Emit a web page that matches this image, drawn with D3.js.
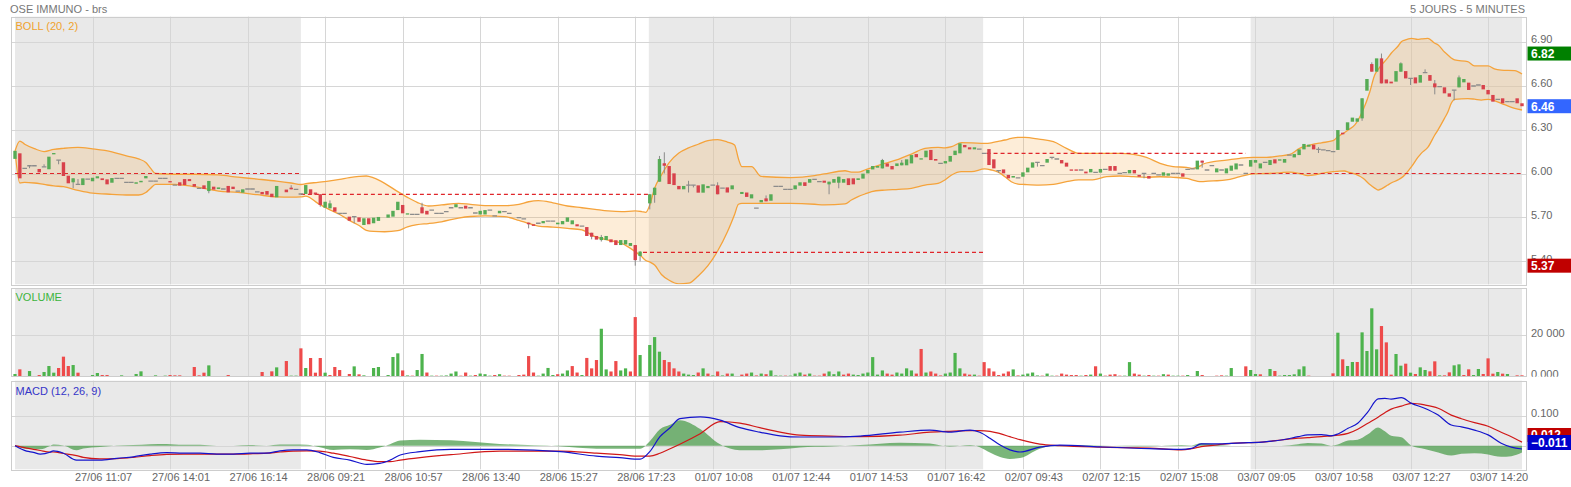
<!DOCTYPE html>
<html><head><meta charset="utf-8">
<script src="https://cdn.jsdelivr.net/npm/d3@7"></script>
<style>
html,body{margin:0;padding:0;background:#fff;overflow:hidden}
svg{display:block;font-family:"Liberation Sans",Arial,sans-serif}
</style></head>
<body><svg id="c" width="1571" height="487"></svg>
<script>
// ---------------- DATA ----------------
const opens = [6.10,6.138,6.035,6.053,6.053,6.031,6.046,6.029,6.131,6.092,6.077,5.985,5.94,5.926,5.921,5.962,5.947,5.967,5.967,5.96,
5.937,5.967,5.967,5.94,5.94,5.93,5.94,5.967,5.948,5.948,5.967,5.967,5.948,5.92,5.94,5.962,5.962,5.928,5.899,5.919,
5.88,5.91,5.894,5.894,5.915,5.91,5.88,5.869,5.894,5.894,5.875,5.874,5.88,5.862,5.837,null,5.89,5.903,5.892,5.86,
5.86,5.892,5.87,5.858,5.766,5.762,5.769,5.728,5.728,5.705,5.705,5.70,5.648,5.694,5.66,5.676,null,5.698,5.705,5.75,
5.785,5.72,5.72,5.72,5.769,5.745,5.75,5.728,5.728,5.74,5.766,5.769,5.766,5.78,5.766,5.73,5.72,5.72,5.75,5.71,
5.728,5.74,5.728,null,5.698,5.69,5.664,5.653,5.66,5.66,5.675,5.675,5.653,5.653,5.67,5.653,5.653,5.64,5.634,5.595,
5.573,5.545,5.545,5.55,5.544,5.511,5.515,5.505,5.511,5.436,null,5.796,5.853,5.944,6.07,6.051,6.001,5.915,5.892,5.92,
5.92,5.919,5.869,5.90,5.92,5.919,5.90,5.905,5.892,null,5.86,5.87,5.83,5.764,5.803,5.83,5.814,5.912,5.912,5.892,
5.892,5.892,5.917,5.94,5.937,5.96,5.944,5.951,5.926,5.937,5.937,5.937,5.967,5.967,5.956,5.965,6.001,6.028,6.04,6.035,
6.069,6.051,6.051,6.056,6.056,6.069,6.133,6.097,6.111,6.161,6.099,6.069,6.069,6.081,6.126,6.138,6.195,6.179,6.165,6.167,
6.138,6.167,6.097,6.02,6.028,5.99,5.972,5.97,5.978,6.008,6.04,6.076,6.054,6.074,6.11,6.099,6.092,6.074,6.028,6.028,
6.024,6.013,6.008,6.008,6.006,6.028,6.051,6.051,6.001,6.006,6.001,6.024,5.99,6.001,5.983,6.001,5.99,5.985,5.985,6.001,
6.001,6.001,6.028,6.031,6.028,6.088,6.024,6.054,6.008,6.024,6.001,6.019,6.028,6.058,6.001,6.047,6.074,6.035,6.076,6.058,
6.097,6.088,6.074,6.126,6.11,6.126,6.165,6.183,6.197,6.165,6.161,6.156,6.149,6.161,6.279,6.297,6.354,6.354,6.377,6.566,
6.748,6.696,6.787,6.643,6.628,6.628,6.696,6.70,6.65,6.657,6.621,6.689,6.673,6.616,6.594,6.589,6.548,6.57,6.589,6.623,
6.621,6.598,6.605,6.605,6.571,6.537,6.507,6.514,6.491,6.491,6.514,6.48];

const closes = [6.155,5.967,6.035,6.053,6.053,6.008,6.046,6.115,6.14,6.092,5.983,5.933,5.967,5.926,5.967,5.962,5.971,5.981,5.955,5.926,
5.969,5.967,5.967,5.94,5.94,5.94,5.95,5.983,5.948,5.948,5.967,5.967,5.94,5.92,5.917,5.921,5.948,5.91,5.899,5.894,
5.949,5.89,5.905,5.894,5.871,5.894,5.88,5.892,5.894,5.894,5.875,5.858,5.855,5.839,5.915,null,5.872,5.892,5.892,5.86,
5.921,5.858,5.856,5.785,5.807,5.796,5.739,5.728,5.728,5.677,5.705,5.67,5.694,5.653,5.698,5.703,null,5.72,5.745,5.807,
5.728,5.728,5.72,5.72,5.728,5.72,5.75,5.728,5.728,5.74,5.766,5.79,5.766,5.76,5.766,5.73,5.745,5.75,5.75,5.71,
5.745,5.74,5.728,null,5.698,5.69,5.653,5.642,5.66,5.675,5.675,5.675,5.664,5.675,5.70,5.68,5.639,5.64,5.573,5.568,
5.548,5.566,5.573,5.53,5.511,5.545,5.545,5.525,5.408,5.466,null,5.858,5.903,6.099,6.053,5.928,5.921,5.892,5.915,5.92,
5.92,5.869,5.926,5.915,5.92,5.858,5.90,5.87,5.919,null,5.874,5.84,5.858,5.764,5.819,5.81,5.858,5.912,5.912,5.892,
5.892,5.919,5.94,5.915,5.962,5.96,5.944,5.937,5.944,5.962,5.978,5.962,5.921,5.926,5.967,5.999,6.024,6.051,6.051,6.092,
6.047,6.028,6.069,6.074,6.097,6.126,6.111,6.104,6.156,6.092,6.088,6.069,6.085,6.12,6.156,6.206,6.179,6.165,6.179,6.167,
6.138,6.058,6.035,6.02,6.001,5.967,5.983,5.97,6.008,6.04,6.076,6.076,6.054,6.099,6.11,6.099,6.069,6.047,6.019,6.019,
6.024,6.001,6.031,6.008,6.031,6.028,6.019,6.019,6.001,6.006,6.024,6.001,5.978,6.001,5.965,6.001,5.99,6.008,6.001,6.001,
6.001,5.978,6.028,6.031,6.088,6.074,6.024,6.054,6.035,6.024,6.035,6.054,6.069,6.058,6.001,6.092,6.092,6.069,6.076,6.092,
6.069,6.097,6.099,6.126,6.133,6.165,6.202,6.197,6.165,6.165,6.161,6.156,6.149,6.297,6.268,6.35,6.382,6.377,6.514,6.646,
6.696,6.787,6.616,6.616,6.616,6.70,6.753,6.65,6.65,6.616,6.673,6.689,6.634,6.589,6.594,6.548,6.525,6.57,6.657,6.646,
6.571,6.598,6.605,6.575,6.541,6.491,6.507,6.48,6.491,6.491,6.48,6.46];

// wick extremes beyond the body: [bar, price]
const wickHighs = [[6,6.063],[13,5.962],[57,5.92],[65,5.816],[84,5.80],[121,5.58],[129,5.47],[133,6.12],[134,6.145],[139,5.95],
[145,5.94],[155,5.85],[179,6.10],[183,6.092],[269,6.18],[280,6.76],[282,6.82],[286,6.76],[291,6.712],[293,6.639],[298,6.67]];
const wickLows = [[3,6.036],[9,6.063],[12,5.90],[40,5.865],[63,5.773],[67,5.72],[70,5.66],[106,5.625],[119,5.55],[121,5.535],
[128,5.37],[129,5.40],[131,5.755],[132,5.80],[134,6.0],[139,5.87],[140,5.905],[168,5.858],[170,5.899],[203,6.005],
[211,6.047],[214,6.097],[233,5.967],[245,6.04],[269,6.14],[278,6.36],[288,6.605],[293,6.541],[297,6.50]];

const volumes = [1300,3530,300,2720,200,800,2250,5130,1930,4170,9610,5130,5600,1930,300,300,800,1770,800,800,
300,300,650,300,300,1300,2570,300,300,650,300,500,800,650,650,300,300,4650,650,1930,
5440,300,300,300,800,300,300,300,300,200,300,2250,300,2570,4480,0,7520,500,500,13600,
4170,8970,1930,8970,1930,800,4650,3200,300,1300,4960,1140,650,300,4170,4650,0,800,9450,11200,
3000,600,500,3200,10900,2000,500,500,500,600,1500,2500,500,2000,500,800,1500,1200,500,800,
1200,500,500,0,800,1000,9900,2000,500,1500,4200,800,1200,1500,3000,5100,2000,800,9000,4000,
8000,23000,3500,2500,7500,3000,4000,2500,28600,10400,0,15200,19000,12000,8000,7000,4000,2500,1500,1000,
800,2000,4000,1500,600,2500,600,1500,1500,0,1000,1500,2000,600,1500,1200,3000,600,500,500,
500,1500,2000,1000,1500,500,500,1500,2500,1200,2500,1000,1500,1000,800,1500,2000,9400,1000,3000,
1500,1000,2000,1500,4000,3000,1500,13300,2000,2500,1500,600,1500,2000,11400,4000,1500,1000,1000,500,
7000,4000,2500,800,1500,2500,3500,600,1000,1500,2000,600,500,1500,500,500,1500,1000,800,800,
500,800,1000,5000,1500,500,1000,1200,500,500,7000,1500,1000,500,800,500,500,1200,1000,500,
500,500,800,300,2730,800,300,300,500,650,500,4160,300,300,4970,3210,1300,1140,300,3690,
2730,500,800,800,1140,3530,4970,500,300,300,200,300,1610,21100,8330,5130,7050,7050,21270,12330,
32800,13130,24300,16470,980,10890,5290,6250,1930,1300,4490,3210,2570,7370,650,650,2090,5450,5930,800,
3530,800,3690,1300,8800,1460,2250,1460,1300,300,650,650];

// Bollinger (20, 2): bar position, upper band, lower band
const bollIdx = [0,1,2,4,6,8,10,13,16,20, 23,25.5,27,28,29,33,37,42,46,50, 54,57,59,60,62.5,65,67,69,71,72.5,
74,76.3,79,81,83,85.3,88,91.5,94,97, 101,104,106,108,111,114,117,119.7,122.4,125.2, 128,129.3,130.2,131,132,133.4,135,137,139,141,
143,145,147,148.5,149.3,150,152,154,160,165, 167,171.3,172.6,174,175.4,176.8,179.5,182.3,185,187.8,
190.5,191.9,193.3,195.3,197.4,200.1,201.5,202.9,204.3,205.6, 207,208.4,211.3,214.3,217,219.5,222,225.3,228,230.8,
233.5,236.3,239,241.8,243.1,244.5,245.2,247.3,250,252.8, 255.5,258.3,261,263.1,265.1,266.8,268.2,269.6,272,273,
274.4,275.1,276.5,278.2,279.6,280.6,281.3,282,283.3,284, 285.4,286.1,286.8,288.2,289.5,290.2,291.6,293,293.7,295,
295.7,296.4,297.1,299.8,301.2,302.6,304,305.3,306.7,309.5, 311];
const bollUpper = [6.154,6.222,6.200,6.170,6.150,6.165,6.172,6.178,6.168,6.148, 6.120,6.100,6.075,6.035,6.000,5.995,5.995,5.990,5.975,5.962,
5.948,5.935,5.925,5.930,5.940,5.950,5.960,5.972,5.980,5.983, 5.970,5.933,5.876,5.837,5.803,5.778,5.785,5.796,5.789,5.780,
5.780,5.789,5.807,5.814,5.800,5.778,5.766,5.755,5.744,5.739, 5.744,5.740,5.735,5.785,5.899,5.990,6.075,6.140,6.175,6.200,
6.225,6.232,6.215,6.195,6.100,6.047,6.047,5.980,5.972,5.985, 5.997,6.019,6.010,6.010,6.024,6.040,6.069,6.097,6.133,6.172,
6.179,6.175,6.183,6.211,6.210,6.206,6.210,6.220,6.229,6.240, 6.247,6.247,6.235,6.218,6.172,6.138,6.138,6.138,6.138,6.131,
6.110,6.069,6.047,6.042,6.035,6.050,6.065,6.081,6.092,6.104, 6.110,6.110,6.120,6.130,6.172,6.190,6.202,6.210,6.224,6.252,
6.280,6.297,6.332,6.434,6.559,6.673,6.710,6.742,6.790,6.822, 6.870,6.901,6.912,6.924,6.917,6.920,6.924,6.890,6.879,6.830,
6.810,6.790,6.776,6.764,6.735,6.735,6.735,6.715,6.707,6.703, 6.680];
const bollLower = [6.154,5.935,5.940,5.935,5.925,5.915,5.910,5.885,5.866,5.858, 5.853,5.853,5.870,5.900,5.926,5.926,5.910,5.880,5.871,5.855,
5.840,5.838,5.840,5.845,5.796,5.751,5.720,5.680,5.645,5.612, 5.604,5.602,5.609,5.635,5.650,5.658,5.670,5.695,5.706,5.710,
5.705,5.680,5.659,5.641,5.634,5.625,5.614,5.568,5.545,5.523, 5.466,5.432,5.405,5.395,5.374,5.310,5.270,5.245,5.250,5.300,
5.370,5.470,5.600,5.720,5.790,5.796,5.796,5.796,5.796,5.790, 5.785,5.792,5.819,5.842,5.860,5.876,5.887,5.892,5.899,5.921,
5.933,5.956,5.990,6.013,6.013,6.031,6.024,6.010,5.978,5.944, 5.928,5.925,5.921,5.926,5.944,5.956,5.956,5.978,5.983,5.978,
5.974,5.978,5.974,5.967,5.955,5.944,5.945,5.949,5.956,5.978, 5.997,6.000,6.005,6.010,6.000,5.985,5.990,6.001,6.013,6.015,
6.017,6.010,5.997,5.967,5.925,5.900,5.887,5.895,5.921,5.935, 5.956,5.970,5.990,6.047,6.110,6.138,6.180,6.263,6.300,6.377,
6.420,6.480,6.507,6.512,6.508,6.502,6.507,6.498,6.480,6.445, 6.434];

// MACD (12, 26, 9)
const macdIdx = [0,2.4,3.8,5.2,7.2,7.9,10,12.7,14.1,17.5, 21,24.4,27.9,31.3,34.7,38.2,41.6,45.1,48.5,51.9,
54.7,57.4,60.2,62.9,65.7,69.1,72.6,75.3,77.4,79.5, 83.6,90,100,112.5,120,124.8,129,131,133.1,135.2,
137.2,141.4,145.5,149.6,153.7,157.9,162,168.2,174.4,182.6, 188.8,192.9,197.1,199.1,201.2,203.3,205.3,207.4,211.5,215.6,
223.9,234.2,240.7,242.8,244.8,247.6,251,254.5,257.9,261.3, 264.8,266.8,269.6,271.6,273,275.1,277.1,279.2,281.3,282.7,
284,286.1,288.2,290.9,293.7,296.4,298.5,301.2,304,306.7, 308.8,311];
const macdLine = [0,-0.018,-0.022,-0.028,-0.022,-0.017,-0.025,-0.048,-0.048,-0.048, -0.042,-0.037,-0.028,-0.023,-0.025,-0.025,-0.028,-0.028,-0.025,-0.025,
-0.017,-0.014,-0.014,-0.023,-0.039,-0.048,-0.062,-0.059,-0.048,-0.031, -0.02,-0.012,-0.012,-0.02,-0.035,-0.04,-0.045,-0.02,0.03,0.06,
0.09,0.096,0.085,0.06,0.045,0.033,0.029,0.029,0.032,0.045, 0.052,0.045,0.052,0.045,0.025,0.002,-0.014,-0.021,-0.005,0.002,
-0.004,-0.01,-0.012,-0.009,0.006,0.006,0.008,0.01,0.013,0.019, 0.03,0.036,0.037,0.033,0.039,0.058,0.075,0.113,0.156,0.158,
0.155,0.16,0.141,0.125,0.102,0.069,0.063,0.052,0.036,0.008, -0.005,-0.011];
const signalLine = [0,-0.008,-0.012,-0.016,-0.021,-0.021,-0.026,-0.033,-0.039,-0.044, -0.043,-0.039,-0.033,-0.029,-0.028,-0.028,-0.028,-0.028,-0.027,-0.025,
-0.021,-0.018,-0.017,-0.018,-0.025,-0.036,-0.048,-0.053,-0.053,-0.048, -0.04,-0.03,-0.018,-0.018,-0.025,-0.03,-0.035,-0.035,-0.025,-0.01,
0.005,0.04,0.08,0.075,0.06,0.045,0.035,0.032,0.03,0.035, 0.045,0.048,0.05,0.05,0.048,0.04,0.03,0.02,0.005,0.0,
-0.005,-0.008,-0.014,-0.01,-0.003,0.002,0.008,0.01,0.013,0.019, 0.025,0.027,0.03,0.033,0.035,0.041,0.055,0.075,0.095,0.11,
0.122,0.132,0.141,0.136,0.125,0.102,0.09,0.077,0.065,0.045, 0.03,0.012];

// sessions (bar positions where each trading day starts / ends)
const dayBounds = [0, 59, 130.8, 199.8, 255, 311];
// previous-close reference levels per session, with their bar spans
const refLevels = [6.00, 5.858, 5.461, 6.138, 6.00];
const refStart = [0, 59, 129.6, 200.5, 255];
const refEnd = [59, 130.8, 199.8, 254, 311];

const xTickLabels = ["27/06 11:07","27/06 14:01","27/06 16:14","28/06 09:21","28/06 10:57","28/06 13:40","28/06 15:27",
"28/06 17:23","01/07 10:08","01/07 12:44","01/07 14:53","01/07 16:42","02/07 09:43","02/07 12:15","02/07 15:08",
"03/07 09:05","03/07 10:58","03/07 12:27","03/07 14:20"];
const xTickBars = [16,32,48,64,80,96,112,128,144,160,176,192,208,224,240,256,272,288,304];
const priceTicks = [5.40,5.70,6.00,6.30,6.60,6.90];
const volTicks = [0,20000];
const volTickLabels = ["0.000","20 000"];
const macdTicks = [0,0.1];
const macdTickLabels = [null,"0.100"];

// ---------------- LAYOUT ----------------
const FRAME_L = 11, FRAME_R = 1526;
const P = {price:[16.7,284.3], vol:[288.3,376.7], macd:[380.7,469.3]};
const n = closes.length;
const svg = d3.select('#c');
const x = d3.scaleLinear().domain([0, n-1]).range([15, 1522]);
const yP = d3.scaleLinear().domain([5.2427, 7.0718]).range([P.price[1], P.price[0]]);
const yV = d3.scaleLinear().domain([0, 42400]).range([P.vol[1], P.vol[0]]);
const yM = d3.scaleLinear().domain([-0.0787, 0.2167]).range([P.macd[1], P.macd[0]]);

const GRID = '#d6d6d6', SHADE = '#e9e9e9', BORDER = '#cdcdcd', AXIS_TXT = '#666';
const defs = svg.append('defs');
function clip(id, y0, y1, x0 = FRAME_L, x1 = FRAME_R) {
  defs.append('clipPath').attr('id', id).append('rect')
    .attr('x', x0).attr('y', y0).attr('width', x1 - x0).attr('height', y1 - y0);
  return 'url(#' + id + ')';
}
const px = v => Math.round(v) + 0.5;

function drawPanel(key, yScale, ticks) {
  const [y0, y1] = P[key];
  const g = svg.append('g');
  g.append('rect').attr('x', FRAME_L).attr('y', y0).attr('width', FRAME_R - FRAME_L).attr('height', y1 - y0).attr('fill', '#fff');
  for (let k = 0; k < dayBounds.length - 1; k += 2) {
    g.append('rect').attr('x', x(dayBounds[k])).attr('y', y0)
      .attr('width', x(dayBounds[k + 1]) - x(dayBounds[k])).attr('height', y1 - y0).attr('fill', SHADE);
  }
  g.selectAll('line.v').data(xTickBars).enter().append('line')
    .attr('x1', d => px(x(d))).attr('x2', d => px(x(d))).attr('y1', y0).attr('y2', y1)
    .attr('stroke', GRID).attr('stroke-width', 1);
  g.selectAll('line.h').data(ticks).enter().append('line')
    .attr('x1', FRAME_L).attr('x2', FRAME_R).attr('y1', d => px(yScale(d))).attr('y2', d => px(yScale(d)))
    .attr('stroke', GRID).attr('stroke-width', 1);
  return g;
}
function drawBorder(key) {
  const [y0, y1] = P[key];
  svg.append('rect').attr('x', px(FRAME_L)).attr('y', px(y0)).attr('width', FRAME_R - FRAME_L)
    .attr('height', Math.round(y1 - y0)).attr('fill', 'none').attr('stroke', BORDER);
}

// ---------------- PRICE PANEL ----------------
drawPanel('price', yP, priceTicks);
const gPrice = svg.append('g').attr('clip-path', clip('cp', P.price[0], P.price[1]));
const bollPts = bollIdx.map((b, k) => ({b, u: bollUpper[k], l: bollLower[k]}));
gPrice.append('path').datum(bollPts)
  .attr('d', d3.area().x(d => x(d.b)).y0(d => yP(d.l)).y1(d => yP(d.u)).curve(d3.curveMonotoneX))
  .attr('fill', 'rgba(247,163,60,0.2)');
['u', 'l'].forEach(k => gPrice.append('path').datum(bollPts)
  .attr('d', d3.line().x(d => x(d.b)).y(d => yP(d[k])).curve(d3.curveMonotoneX))
  .attr('fill', 'none').attr('stroke', '#f5a33b').attr('stroke-width', 1.3));

refLevels.forEach((lv, k) => gPrice.append('line')
  .attr('x1', x(refStart[k])).attr('x2', x(refEnd[k])).attr('y1', yP(lv)).attr('y2', yP(lv))
  .attr('stroke', '#e0262b').attr('stroke-width', 1.2).attr('stroke-dasharray', '4,3'));

const hiMap = new Map(wickHighs), loMap = new Map(wickLows);
const bars = d3.range(n).filter(i => opens[i] != null).map(i => ({
  i, o: opens[i], c: closes[i],
  h: hiMap.has(i) ? hiMap.get(i) : Math.max(opens[i], closes[i]),
  l: loMap.has(i) ? loMap.get(i) : Math.min(opens[i], closes[i])
}));
const UP = '#56ab56', DOWN = '#d8414b';
bars.forEach(d => {
  const cx = x(d.i);
  if (d.h > Math.max(d.o, d.c) + 1e-9 || d.l < Math.min(d.o, d.c) - 1e-9) {
    gPrice.append('line').attr('x1', cx).attr('x2', cx).attr('y1', yP(d.h)).attr('y2', yP(d.l))
      .attr('stroke', '#8a8a8a').attr('stroke-width', 1);
  }
  if (Math.abs(d.o - d.c) < 1e-9) {
    gPrice.append('line').attr('x1', cx - 2.3).attr('x2', cx + 2.3).attr('y1', yP(d.c)).attr('y2', yP(d.c))
      .attr('stroke', '#8c8c8c').attr('stroke-width', 1.3);
  } else {
    const top = yP(Math.max(d.o, d.c)), bot = yP(Math.min(d.o, d.c));
    gPrice.append('rect').attr('x', cx - 1.7).attr('width', 3.4).attr('y', top)
      .attr('height', Math.max(1.3, bot - top)).attr('fill', d.c > d.o ? UP : DOWN);
  }
});
drawBorder('price');

// ---------------- VOLUME PANEL ----------------
drawPanel('vol', yV, [20000]);
const gVol = svg.append('g').attr('clip-path', clip('cv', P.vol[0], P.vol[1]));
const volData = d3.range(n).filter(i => volumes[i] > 0 && closes[i] != null).map(i => {
  let prev = null;
  for (let j = i - 1; j >= 0; j--) if (closes[j] != null) { prev = closes[j]; break; }
  let up = prev == null ? closes[i] >= opens[i] : (closes[i] > prev ? true : closes[i] < prev ? false : closes[i] >= opens[i]);
  return {i, v: volumes[i], up};
});
gVol.selectAll('rect').data(volData).enter().append('rect')
  .attr('x', d => x(d.i) - 1.6).attr('width', 3.2)
  .attr('y', d => yV(d.v)).attr('height', d => yV(0) - yV(d.v))
  .attr('fill', d => d.up ? '#4db34d' : '#ee4b4b');
drawBorder('vol');

// ---------------- MACD PANEL ----------------
drawPanel('macd', yM, macdTicks);
const gM = svg.append('g').attr('clip-path', clip('cm', P.macd[0], P.macd[1]));
const mPts = macdIdx.map((b, k) => ({b, m: macdLine[k], s: signalLine[k], h: macdLine[k] - signalLine[k]}));
gM.append('path').datum(mPts)
  .attr('d', d3.area().x(d => x(d.b)).y0(yM(0)).y1(d => yM(d.h)).curve(d3.curveMonotoneX))
  .attr('fill', '#4e9e4e').attr('fill-opacity', 0.75);
gM.append('path').datum(mPts)
  .attr('d', d3.line().x(d => x(d.b)).y(d => yM(d.s)).curve(d3.curveMonotoneX))
  .attr('fill', 'none').attr('stroke', '#d01818').attr('stroke-width', 1.2);
gM.append('path').datum(mPts)
  .attr('d', d3.line().x(d => x(d.b)).y(d => yM(d.m)).curve(d3.curveMonotoneX))
  .attr('fill', 'none').attr('stroke', '#1414cc').attr('stroke-width', 1.2);
drawBorder('macd');

// ---------------- TEXTS ----------------
const txt = (g, xx, yy, s, opt = {}) => g.append('text').attr('x', xx).attr('y', yy).text(s)
  .attr('font-size', opt.size || 11).attr('fill', opt.fill || AXIS_TXT)
  .attr('text-anchor', opt.anchor || 'start').attr('font-weight', opt.weight || 'normal')
  .attr('dominant-baseline', opt.base || 'auto');

txt(svg, 10, 13, 'OSE IMMUNO - brs', {fill: '#777'});
txt(svg, 1525, 13, '5 JOURS - 5 MINUTES', {fill: '#777', anchor: 'end'});
txt(svg, 15.5, 29.5, 'BOLL (20, 2)', {fill: '#f0a22e'});
txt(svg, 15.5, 300.5, 'VOLUME', {fill: '#3cb43c'});
txt(svg, 15.5, 394.5, 'MACD (12, 26, 9)', {fill: '#3535c8'});

// x axis labels
xTickBars.forEach((b, k) => txt(svg, x(b) + 11, 480.5, xTickLabels[k], {anchor: 'middle'}));

// right axes
const fmt2 = d3.format('.2f'), fmt3 = d3.format('.3f');
priceTicks.forEach(t => txt(svg, 1531, yP(t) - 2.5, fmt2(t), {base: 'central'}));
const gVolAx = svg.append('g').attr('clip-path', clip('cva', P.vol[0], P.vol[1], 1527, 1571));
volTicks.forEach((t, k) => txt(gVolAx, 1531, yV(t) - 2.5, volTickLabels[k], {base: 'central'}));
macdTicks.forEach((t, k) => { if (macdTickLabels[k]) txt(svg, 1531, yM(t) - 2.5, macdTickLabels[k], {base: 'central'}); });

// value boxes
function box(yc, label, color, h = 14) {
  svg.append('rect').attr('x', 1527.5).attr('y', yc - h / 2).attr('width', 44).attr('height', h).attr('fill', color);
  txt(svg, 1531, yc + 0.5, label, {fill: '#fff', weight: 'bold', base: 'central', size: 12});
}
const allHigh = d3.max(bars, d => d.h), allLow = d3.min(bars, d => d.l);
const lastClose = closes[n - 1];
box(yP(allHigh), fmt2(allHigh), '#008000');
box(yP(lastClose), fmt2(lastClose), '#3366ff');
box(yP(allLow), fmt2(allLow), '#c00000');
const mLast = macdLine[macdLine.length - 1], sLast = signalLine[signalLine.length - 1];
const blueY = yM(mLast) - 6.5;
box(blueY - 7.5, fmt3(sLast), '#c00000');
box(blueY, fmt3(mLast), '#0000cc', 15);
</script></body></html>
